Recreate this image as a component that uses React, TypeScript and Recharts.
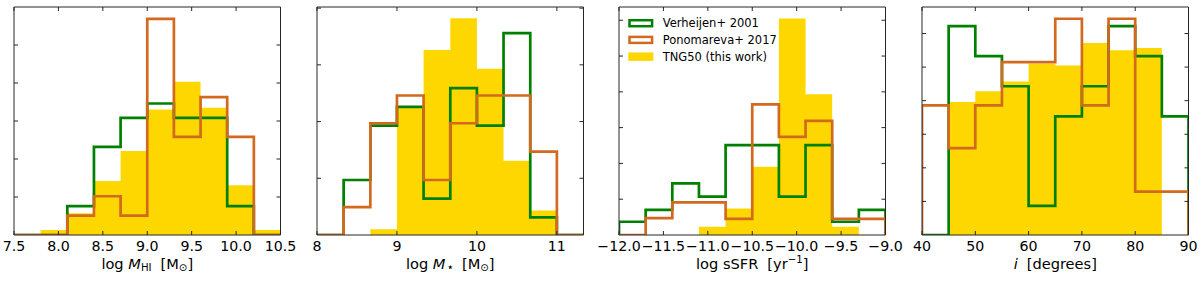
import React from 'react';
import { ComposedChart, Area, Line, XAxis, YAxis, Legend } from 'recharts';

const FONT = '"DejaVu Sans", Verdana, sans-serif';
const GREEN = '#008000';
const ORANGE = '#D2691E';
const GOLD = '#FFD700';
const SPINE = '#262626';

const SERIES_NAMES = ['Verheijen+ 2001', 'Ponomareva+ 2017', 'TNG50 (this work)'];

// Panel 1: log M_HI
const mhiEdges = [7.5, 7.8, 8.1, 8.4, 8.7, 9.0, 9.3, 9.6, 9.9, 10.2, 10.5];
const mhiTng = [0, 0.13, 0.57, 1.42, 2.21, 3.3, 4.03, 3.35, 1.31, 0.13];
const mhiVer = [0, 0, 0.76, 2.32, 3.08, 3.46, 3.08, 3.08, 0.76, 0];
const mhiPon = [0, 0, 0.51, 1.02, 0.51, 5.69, 2.58, 3.63, 2.58, 0];
const mhiTicks = [7.5, 8.0, 8.5, 9.0, 9.5, 10.0, 10.5];

// Panel 2: log M_star
const mstEdges = [8, 8.333, 8.667, 9, 9.333, 9.667, 10, 10.333, 10.667, 11, 11.333];
const mstTng = [0, 0, 0.1, 2.24, 3.26, 3.82, 2.93, 1.31, 0.43, 0];
const mstVer = [0, 0.97, 1.93, 2.26, 0.64, 2.59, 1.93, 3.56, 0.31, 0];
const mstPon = [0, 0.49, 1.97, 2.46, 0.97, 1.97, 2.46, 2.46, 1.47, 0];
const mstTicks = [8, 9, 10, 11];

// Panel 3: log sSFR
const ssfrEdges = [-12, -11.7, -11.4, -11.1, -10.8, -10.5, -10.2, -9.9, -9.6, -9.3, -9.0];
const ssfrTng = [0, 0, 0, 0.23, 0.74, 1.91, 6.05, 3.93, 0.23, 0];
const ssfrVer = [0.37, 0.7, 1.44, 1.07, 2.51, 2.51, 1.07, 2.51, 0.37, 0.7];
const ssfrPon = [0, 0.47, 0.91, 0.91, 0.45, 3.65, 2.74, 3.19, 0.45, 0.45];
const ssfrTicks = [-12.0, -11.5, -11.0, -10.5, -10.0, -9.5, -9.0];

// Panel 4: inclination
const incEdges = [40, 45, 50, 55, 60, 65, 70, 75, 80, 85, 90];
const incTng = [0, 3.96, 4.28, 4.57, 5.1, 5.05, 5.72, 5.5, 5.57, 0];
const incVer = [0, 6.22, 5.33, 4.43, 0.87, 3.53, 4.43, 6.22, 5.33, 3.53];
const incPon = [3.86, 2.59, 3.86, 5.15, 5.15, 6.44, 3.86, 6.44, 1.29, 1.29];
const incTicks = [40, 50, 60, 70, 80, 90];

const H = 282;
const PLOT_TOP = 7;
const PLOT_BOTTOM = 235;
const PAD = 30;
const PLOT_W = 266.5;
const TICK_FS = 14.2;
const TITLE_FS = 14.6;
const BOTTOM_AXIS_H = 40;

function buildRows(edges: number[], tng: number[], ver: number[], pon: number[]) {
  const n = tng.length;
  const rows = [{ x: edges[0], tng: 0, ver: 0, pon: 0 }];
  for (let i = 0; i < n; i++) rows.push({ x: edges[i], tng: tng[i], ver: ver[i], pon: pon[i] });
  rows.push({ x: edges[n], tng: tng[n - 1], ver: ver[n - 1], pon: pon[n - 1] });
  rows.push({ x: edges[n], tng: 0, ver: 0, pon: 0 });
  return rows;
}

const fmt1 = (v: number) => (v < 0 ? '\u2212' : '') + Math.abs(v).toFixed(1);
const fmt0 = (v: number) => String(v);

const EmptyTick = () => <g />;

function AxisTitle(props: any) {
  const { viewBox, kind } = props;
  const vb = viewBox || {};
  const cx = (vb.x ?? PAD) + (vb.width ?? PLOT_W) / 2;
  const y = (vb.y ?? PLOT_BOTTOM) + 33.5;
  const sub = 10.2;
  let content: React.ReactNode = null;
  if (kind === 'mhi') {
    content = (
      <>
        <tspan>log </tspan>
        <tspan fontStyle="italic">M</tspan>
        <tspan fontSize={sub} dy={2.8}>HI</tspan>
        <tspan dy={-2.8} dx={9}>[M</tspan>
        <tspan fontSize={sub} dy={2.8}>⊙</tspan>
        <tspan dy={-2.8}>]</tspan>
      </>
    );
  } else if (kind === 'mst') {
    content = (
      <>
        <tspan>log </tspan>
        <tspan fontStyle="italic">M</tspan>
        <tspan fontSize={12} dy={2.2} dx={1}>⋆</tspan>
        <tspan dy={-2.2} dx={8}>[M</tspan>
        <tspan fontSize={sub} dy={2.8}>⊙</tspan>
        <tspan dy={-2.8}>]</tspan>
      </>
    );
  } else if (kind === 'ssfr') {
    content = (
      <>
        <tspan>log sSFR</tspan>
        <tspan dx={9}>[yr</tspan>
        <tspan fontSize={sub} dy={-5.5}>{'\u22121'}</tspan>
        <tspan dy={5.5}>]</tspan>
      </>
    );
  } else {
    content = (
      <>
        <tspan fontStyle="italic">i</tspan>
        <tspan dx={9}>[degrees]</tspan>
      </>
    );
  }
  return (
    <text x={cx} y={y} textAnchor="middle" fontFamily={FONT} fontSize={TITLE_FS} fill="#000">
      {content}
    </text>
  );
}

function LegendBox() {
  const pitch = 16.7;
  const items = [
    { name: SERIES_NAMES[0], color: GREEN, filled: false },
    { name: SERIES_NAMES[1], color: ORANGE, filled: false },
    { name: SERIES_NAMES[2], color: GOLD, filled: true },
  ];
  return (
    <svg width={150} height={56} style={{ display: 'block', overflow: 'visible' }}>
      {items.map((it, k) =>
        it.filled ? (
          <rect key={k} x={2.3} y={5 + pitch * k} width={25} height={8.5} fill={it.color} />
        ) : (
          <rect
            key={k}
            x={3.5}
            y={6.2 + pitch * k}
            width={22.6}
            height={6}
            fill="#fff"
            stroke={it.color}
            strokeWidth={2.5}
          />
        )
      )}
      {items.map((it, k) => (
        <text key={'t' + k} x={36.7} y={13.3 + pitch * k} fontFamily={FONT} fontSize={11.5} fill="#000">
          {it.name}
        </text>
      ))}
    </svg>
  );
}

type PanelProps = {
  left: number;
  edges: number[];
  tng: number[];
  ver: number[];
  pon: number[];
  xTicks: number[];
  xFmt: (v: number) => string;
  yMax: number;
  yTicks: number[];
  kind: string;
  legend?: boolean;
};

function Panel(p: PanelProps) {
  const rows = buildRows(p.edges, p.tng, p.ver, p.pon);
  const lo = p.edges[0];
  const hi = p.edges[p.edges.length - 1];
  const W = PLOT_W + 2 * PAD;
  return (
    <div style={{ position: 'absolute', left: p.left - PAD, top: 0, width: W, height: H }}>
      <ComposedChart
        width={W}
        height={H}
        data={rows}
        margin={{ top: PLOT_TOP - 1, bottom: H - PLOT_BOTTOM - BOTTOM_AXIS_H, left: PAD - 1, right: PAD - 1 }}
      >
        <Area
          type="stepAfter"
          dataKey="tng"
          name={SERIES_NAMES[2]}
          fill={GOLD}
          fillOpacity={1}
          stroke="none"
          isAnimationActive={false}
          dot={false}
          activeDot={false}
        />
        <Line
          type="stepAfter"
          dataKey="ver"
          name={SERIES_NAMES[0]}
          stroke={GREEN}
          strokeWidth={2.7}
          strokeLinejoin="miter"
          dot={false}
          activeDot={false}
          isAnimationActive={false}
        />
        <Line
          type="stepAfter"
          dataKey="pon"
          name={SERIES_NAMES[1]}
          stroke={ORANGE}
          strokeWidth={2.7}
          strokeLinejoin="miter"
          dot={false}
          activeDot={false}
          isAnimationActive={false}
        />
        <XAxis
          type="number"
          dataKey="x"
          domain={[lo, hi]}
          allowDataOverflow
          ticks={p.xTicks}
          interval={0}
          tickFormatter={p.xFmt}
          tickSize={-4}
          tickMargin={10}
          height={BOTTOM_AXIS_H}
          stroke={SPINE}
          tick={{ fill: '#000', fontSize: TICK_FS, fontFamily: FONT }}
          label={<AxisTitle kind={p.kind} />}
        />
        <XAxis
          xAxisId="top"
          orientation="top"
          type="number"
          dataKey="x"
          domain={[lo, hi]}
          allowDataOverflow
          ticks={p.xTicks}
          interval={0}
          tickSize={-4}
          height={1}
          stroke={SPINE}
          tick={EmptyTick}
        />
        <YAxis
          type="number"
          domain={[0, p.yMax]}
          allowDataOverflow
          ticks={p.yTicks}
          interval={0}
          tickSize={-4}
          width={1}
          stroke={SPINE}
          tick={EmptyTick}
        />
        <YAxis
          yAxisId="right"
          orientation="right"
          type="number"
          domain={[0, p.yMax]}
          allowDataOverflow
          ticks={p.yTicks}
          interval={0}
          tickSize={-4}
          width={1}
          stroke={SPINE}
          tick={EmptyTick}
        />
        {p.legend ? (
          <Legend
            layout="vertical"
            align="center"
            verticalAlign="middle"
            wrapperStyle={{ left: PAD + 6.7, top: 14, width: 150, height: 56 }}
            content={() => <LegendBox />}
          />
        ) : null}
      </ComposedChart>
    </div>
  );
}

export default function App() {
  return (
    <div
      style={{
        position: 'absolute',
        left: 0,
        top: 0,
        width: 1200,
        height: H,
        background: '#fff',
        fontFamily: FONT,
      }}
    >
      <Panel left={14} edges={mhiEdges} tng={mhiTng} ver={mhiVer} pon={mhiPon} xTicks={mhiTicks} xFmt={fmt1} yMax={6.0} yTicks={[1, 2, 3, 4, 5]} kind="mhi" />
      <Panel left={316.7} edges={mstEdges} tng={mstTng} ver={mstVer} pon={mstPon} xTicks={mstTicks} xFmt={fmt0} yMax={4.02} yTicks={[1, 2, 3, 4]} kind="mst" />
      <Panel left={619.3} edges={ssfrEdges} tng={ssfrTng} ver={ssfrVer} pon={ssfrPon} xTicks={ssfrTicks} xFmt={fmt1} yMax={6.37} yTicks={[1, 2, 3, 4, 5, 6]} kind="ssfr" legend />
      <Panel left={921.7} edges={incEdges} tng={incTng} ver={incVer} pon={incPon} xTicks={incTicks} xFmt={fmt0} yMax={6.79} yTicks={[1, 2, 3, 4, 5, 6]} kind="inc" />
    </div>
  );
}
